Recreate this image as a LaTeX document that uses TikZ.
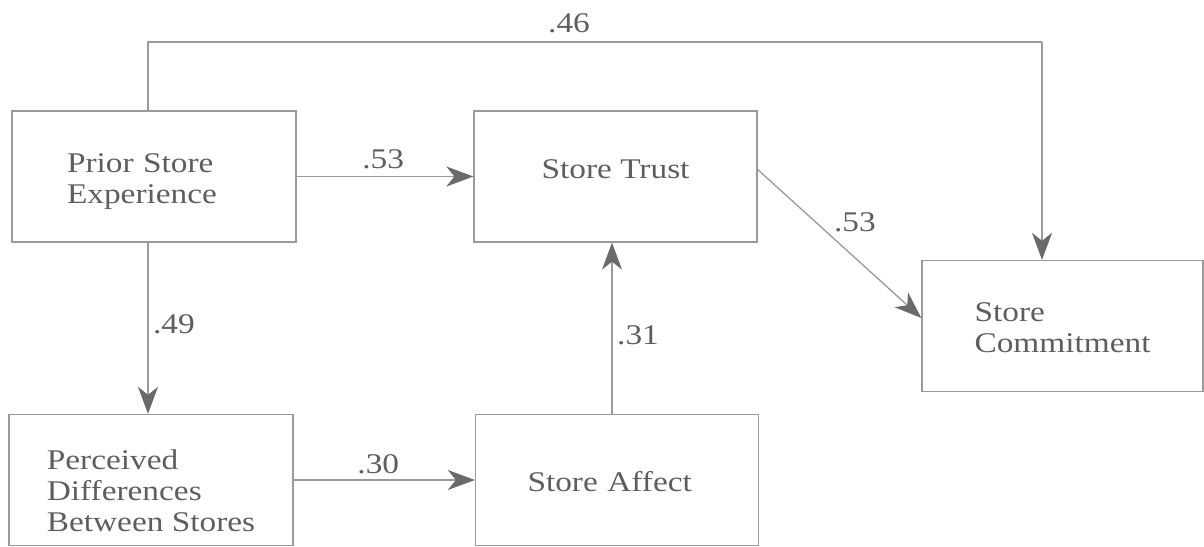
\documentclass[tikz,border=0pt]{standalone}
\usepackage{fontspec}
\setmainfont{Liberation Serif}[FakeStretch=1.17]
\usetikzlibrary{arrows.meta,calc}
\definecolor{txtgray}{HTML}{5E5E5E}
\definecolor{linegray}{HTML}{9A9A9A}
\definecolor{tipgray}{HTML}{6A6A6A}
\begin{document}
\begin{tikzpicture}[x=1pt,y=-1pt,
  box/.style={draw=linegray, line width=1.3pt, minimum height=131pt, inner ysep=0pt,
    text=txtgray, font=\fontsize{28.5}{31}\selectfont, align=left},
  arr/.style={draw=linegray, line width=1.3pt,
    -{Stealth[length=27pt,width=20pt,inset=8pt,color=tipgray,fill=tipgray]}},
  conn/.style={draw=linegray, line width=1.3pt},
  lbl/.style={text=txtgray, font=\fontsize{28.5}{31}\selectfont, inner sep=0pt, anchor=base}]
\fill[white] (0,0) rectangle (1204,546);
\useasboundingbox (0,0) rectangle (1204,546);

\node[box, text width=174pt, inner xsep=55pt] (prior) at (154,176.5) {\rule{0pt}{30pt}Prior Store\\Experience};
\node[box, minimum width=283pt, align=center] (trust) at (615.5,176.5) {\rule[-14pt]{0pt}{14pt}Store Trust};
\node[box, minimum width=281pt] (commit) at (1062.5,326) {\rule{0pt}{22pt}Store\\Commitment};
\node[box, minimum width=284pt] (perc) at (151,480) {\rule{0pt}{42pt}Perceived\\Differences\\Between Stores};
\node[box, text width=179pt, inner xsep=52pt] (affect) at (617,480) {\rule{0pt}{24pt}Store Affect};

\coordinate (t1) at (148,42);
\coordinate (t2) at (1042,42);
\coordinate (v) at (612,0);

% .46 path
\draw[conn] (t1 |- prior.north) -- (t1) -- node[lbl, pos=0.471, yshift=10pt] {.46} (t2);
\draw[arr] (t2) -- (t2 |- commit.north);

% .53 prior -> trust
\draw[arr] (prior) -- node[lbl, pos=0.49, yshift=8.5pt] {.53} (trust);

% .49 prior -> perceived
\draw[arr] (prior.south -| t1) -- node[lbl, pos=0.53, xshift=26pt] {.49} (perc.north -| t1);

% .30 perceived -> affect
\draw[arr] (perc) -- node[lbl, pos=0.467, yshift=7pt] {.30} (affect);

% .31 affect -> trust
\draw[arr] (affect.north -| v) -- node[lbl, pos=0.405, xshift=26pt] {.31} (trust.south -| v);

% .53 trust -> commitment
\draw[arr] ([yshift=7pt]trust.east) -- node[lbl, pos=0.594, yshift=26pt] {.53} ([yshift=8pt]commit.west);
\end{tikzpicture}
\end{document}
